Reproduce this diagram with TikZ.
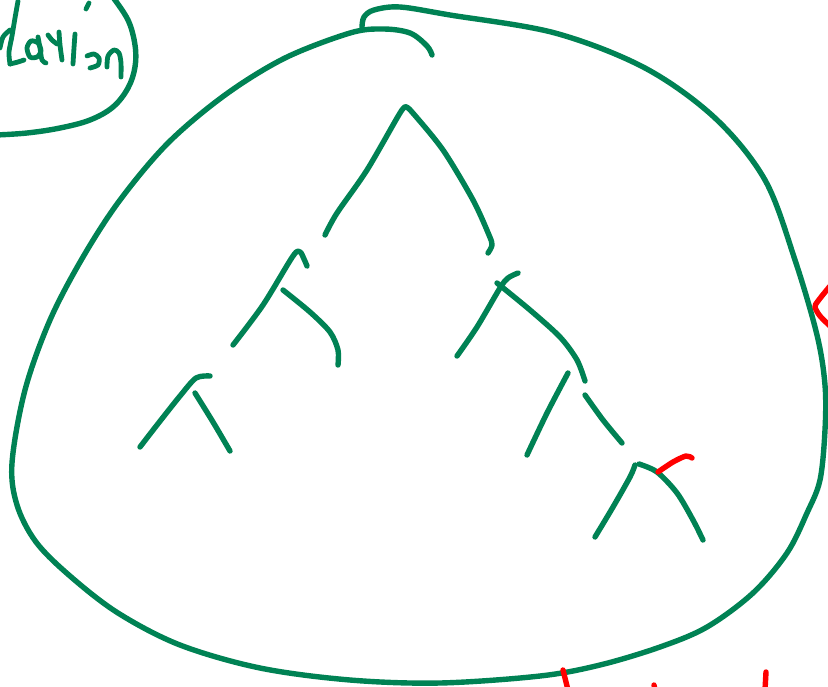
\documentclass[tikz,border=0pt]{standalone}
\definecolor{pen}{RGB}{0,130,84}
\tikzset{
  ink/.style={draw=pen, line width=5.4pt, line cap=round, line join=round},
  redink/.style={draw=red, line width=5.4pt, line cap=round, line join=round},
  script/.style={draw=pen, line width=4.8pt, line cap=round, line join=round}
}
\begin{document}
\begin{tikzpicture}[x=1pt,y=-1pt]
\useasboundingbox (0,0) rectangle (828,686);
\fill[white] (0,0) rectangle (828,686);

% big blob outline
\draw[ink] plot[smooth, tension=0.55] coordinates {
 (362,27) (364,17) (374,10) (400,7) (450,15) (555,33) (645,68) (715,118)
 (765,180) (795,260) (817,335) (825,385) (825,430) (820,480) (807,513)
 (787,553) (753,593) (707,627) (660,647) (600,665) (540,676) (440,683)
 (350,680) (260,668) (180,645) (118,613) (70,576) (36,542) (17,505)
 (12,463) (25,390) (50,320) (83,257) (120,200) (168,143) (225,95)
 (285,58) (350,33) (383,29) (410,33) (427,46) (432,55)};

% top-left circle round the handwriting
\draw[ink] plot[smooth, tension=0.6] coordinates {
 (112,-4) (128,20) (135,45) (135,67) (128,88) (113,107) (90,120) (60,128) (27,133) (-4,135)};

% handwriting strokes
\draw[script] plot[smooth] coordinates {(18,1) (15,18) (12,36) (9,52) (10,64)};
\draw[script] plot[smooth] coordinates {(10,30) (3,37) (0,48)};
\draw[script] plot[smooth] coordinates {(10,64) (18,62) (24,60)};
\draw[script] plot[smooth cycle] coordinates {(38,43) (31,41) (27,48) (30,57) (37,57) (41,51)};
\draw[script] plot[smooth] coordinates {(38,37) (40,48) (42,60) (46,63)};
\draw[script] plot[smooth] coordinates {(48,35) (52,40) (57,44)};
\draw[script] plot[smooth] coordinates {(59,32) (60,45) (62,60)};
\draw[script] plot[smooth] coordinates {(75,34) (74,48) (73,64)};
\draw[script] (89,3) -- (86,9);
\draw[script] plot[smooth] coordinates {(87,56) (94,54) (99,58) (98,65) (90,68)};
\draw[script] plot[smooth] coordinates {(107,67) (108,56) (114,50) (119,53) (121,63) (121,77)};

% tree strokes
\draw[ink] plot[smooth] coordinates {(325,235) (337,213) (367,170) (400,113) (406,107)};
\draw[ink] plot[smooth] coordinates {(406,107) (412,112) (443,150) (473,200) (489,235) (492,245) (488,253)};

\draw[ink] plot[smooth] coordinates {(233,345) (263,305) (293,256) (300,252) (304,259) (307,266)};
\draw[ink] plot[smooth] coordinates {(283,290) (310,312) (330,332) (338,350) (338,365)};

\draw[ink] plot[smooth] coordinates {(140,447) (157,425) (180,396) (196,378) (210,376)};
\draw[ink] plot[smooth] coordinates {(195,393) (213,422) (230,451)};

\draw[ink] plot[smooth] coordinates {(457,356) (477,327) (500,288) (508,278) (518,273)};
\draw[ink] plot[smooth] coordinates {(497,283) (530,310) (560,337) (577,360) (585,381)};

\draw[ink] plot[smooth] coordinates {(527,455) (547,413) (568,373)};
\draw[ink] plot[smooth] coordinates {(585,395) (603,420) (622,443)};

\draw[ink] plot[smooth] coordinates {(595,537) (613,507) (630,477) (635,465)};
\draw[ink] plot[smooth] coordinates {(639,464) (657,472) (677,493) (693,520) (703,540)};

% red strokes
\draw[redink] plot[smooth] coordinates {(658,472) (673,462) (686,456) (692,458)};
\draw[redink] plot[smooth] coordinates {(830,286) (818,301) (815,307) (820,316) (830,326)};
\draw[redink] (563,670) -- (568,690);
\draw[redink] (654,685) -- (655,690);
\draw[redink] (766,672) -- (765,690);
\end{tikzpicture}
\end{document}
